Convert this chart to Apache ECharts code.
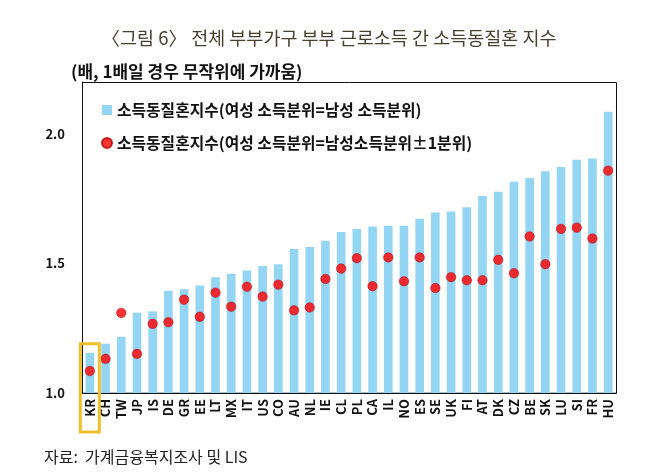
<!DOCTYPE html>
<html>
<head>
<meta charset="utf-8">
<script src="https://cdn.jsdelivr.net/npm/echarts@6/dist/echarts.min.js"></script>
<style>
  html, body { margin: 0; padding: 0; background: #fff; }
  #chart { width: 658px; height: 476px; }
</style>
</head>
<body>
<div id="chart"></div>
<script>
const countries = ['KR','CH','TW','JP','IS','DE','GR','EE','LT','MX','IT','US','CO','AU','NL','IE','CL','PL','CA','IL','NO','ES','SE','UK','FI','AT','DK','CZ','BE','SK','LU','SI','FR','HU']

// 여성 소득분위 = 남성 소득분위
const sameQuintile = [1.155, 1.19, 1.217, 1.31, 1.315, 1.395, 1.40, 1.415, 1.447, 1.46, 1.473, 1.49, 1.497, 1.556, 1.563, 1.587, 1.621, 1.633, 1.642, 1.645, 1.645, 1.672, 1.696, 1.70, 1.717, 1.76, 1.777, 1.815, 1.83, 1.856, 1.872, 1.90, 1.905, 2.085]

// 여성 소득분위 = 남성 소득분위 ±1분위
const nearQuintile = [1.085, 1.132, 1.309, 1.151, 1.267, 1.273, 1.36, 1.294, 1.387, 1.333, 1.41, 1.372, 1.418, 1.319, 1.33, 1.44, 1.48, 1.52, 1.412, 1.523, 1.431, 1.523, 1.405, 1.447, 1.435, 1.435, 1.514, 1.462, 1.604, 1.497, 1.633, 1.638, 1.596, 1.858]

const yTicks = [1.0, 1.5, 2.0]

const seriesNames = [
  '소득동질혼지수(여성 소득분위=남성 소득분위)',
  '소득동질혼지수(여성 소득분위=남성소득분위±1분위)'
]

const font = '"Noto Sans CJK KR", "Noto Sans", sans-serif'

const chart = echarts.init(document.getElementById('chart'))

const option = {
  animation: false,
  textStyle: { fontFamily: font },
  title: [{
    text: '〈그림 6〉 전체 부부가구 부부 근로소득 간 소득동질혼 지수',
    left: 'center',
    top: 24,
    textStyle: { fontFamily: font, fontSize: 18.5, fontWeight: 'normal', color: '#4a3f2e' }
  }, {
    text: '(배, 1배일 경우 무작위에 가까움)',
    left: 66,
    top: 58,
    textStyle: { fontFamily: font, fontSize: 17, fontWeight: 'bold', color: '#111' }
  }, {
    text: '자료:  가계금융복지조사 및 LIS',
    left: 39,
    top: 444,
    textStyle: { fontFamily: font, fontSize: 16, fontWeight: 'normal', color: '#222' }
  }],
  legend: {
    orient: 'vertical',
    left: 96,
    top: 97,
    itemGap: 17,
    itemWidth: 10,
    itemHeight: 10,
    data: [
      { name: seriesNames[0], icon: 'rect' },
      { name: seriesNames[1], icon: 'circle' }
    ],
    textStyle: { fontFamily: font, fontSize: 15.8, fontWeight: 'bold', color: '#111', lineHeight: 16 }
  },
  grid: {
    left: 82,
    right: 42,
    top: 82,
    bottom: 83
  },
  xAxis: {
    type: 'category',
    data: countries,
    axisTick: { show: false },
    axisLine: { lineStyle: { color: '#9aa6b4', width: 1.5 } },
    axisLabel: {
      rotate: 90,
      interval: 0,
      margin: 6,
      fontFamily: font,
      fontSize: 13,
      fontWeight: 'bold',
      color: '#111'
    }
  },
  yAxis: {
    type: 'value',
    min: 1,
    max: 2.2,
    interval: 0.5,
    splitLine: { show: false },
    axisTick: { show: false },
    axisLine: { show: true, lineStyle: { color: '#111' } },
    axisLabel: {
      margin: 17,
      fontFamily: font,
      fontSize: 13,
      fontWeight: 'bold',
      color: '#111',
      formatter: function (v) {
        const hit = yTicks.find(t => Math.abs(t - v) < 1e-6)
        return hit === undefined ? '' : hit.toFixed(1)
      }
    }
  },
  series: [{
    name: seriesNames[0],
    type: 'bar',
    data: sameQuintile,
    barWidth: '55%',
    itemStyle: { color: '#93d5f3' }
  }, {
    name: seriesNames[1],
    type: 'scatter',
    data: nearQuintile,
    symbolSize: 9.5,
    itemStyle: { color: '#ff0000', borderColor: '#b00000', borderWidth: 0.6 }
  }]
}

chart.setOption(option)

// plot frame and yellow highlight box around KR
const krTop = chart.convertToPixel({ xAxisIndex: 0, yAxisIndex: 0 }, ['KR', sameQuintile[0]])
const krBase = chart.convertToPixel({ xAxisIndex: 0, yAxisIndex: 0 }, ['KR', 1])
const frameTop = chart.convertToPixel({ xAxisIndex: 0, yAxisIndex: 0 }, ['KR', 2.2])
const halfW = 9.5
chart.setOption({
  graphic: [{
    type: 'rect',
    shape: { x: 82.5, y: Math.round(frameTop[1]) + 0.5, width: 534, height: krBase[1] - frameTop[1] },
    style: { fill: 'none', stroke: '#111', lineWidth: 1 },
    silent: true,
    z: 1
  }, {
    type: 'rect',
    shape: { x: krTop[0] - halfW, y: krTop[1] - 9, width: halfW * 2, height: krBase[1] - krTop[1] + 9 + 39 },
    style: { fill: 'none', stroke: '#f0c02a', lineWidth: 3 },
    z: 100
  }]
})
</script>
</body>
</html>
